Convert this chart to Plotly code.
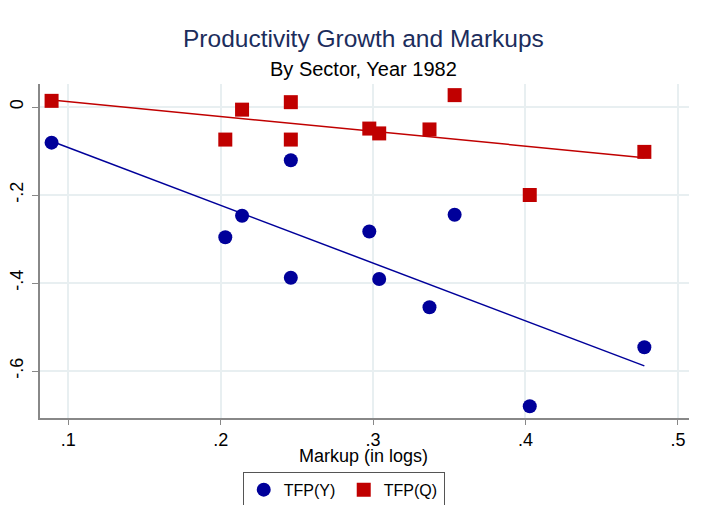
import numpy as np
import plotly.graph_objects as go

# markup (in logs) by sector, 1982
markup = [0.089, 0.203, 0.214, 0.246, 0.246, 0.2975, 0.304, 0.337, 0.3535, 0.4028, 0.478]
# productivity growth
tfp_y = [-0.081, -0.296, -0.247, -0.121, -0.388, -0.283, -0.391, -0.455, -0.245, -0.680, -0.546]
tfp_q = [0.014, -0.074, -0.006, 0.011, -0.074, -0.049, -0.060, -0.051, 0.027, -0.200, -0.102]

x_ticks = [0.1, 0.2, 0.3, 0.4, 0.5]
x_labels = [".1", ".2", ".3", ".4", ".5"]
y_ticks = [0, -0.2, -0.4, -0.6]
y_labels = ["0", "-.2", "-.4", "-.6"]

blue = "#00009a"
red = "#c00000"

x = np.array(markup)


# linear fit line across the range of markups
def fit_line(y):
    b, a = np.polyfit(x, np.array(y), 1)
    xs = np.array([x.min(), x.max()])
    return xs, a + b * xs


fig = go.Figure()

fig.add_trace(go.Scatter(x=markup, y=tfp_y, mode="markers", name="TFP(Y)",
                         marker=dict(symbol="circle", size=14, color=blue)))
fig.add_trace(go.Scatter(x=markup, y=tfp_q, mode="markers", name="TFP(Q)",
                         marker=dict(symbol="square", size=14, color=red)))

xs, ys = fit_line(tfp_y)
fig.add_trace(go.Scatter(x=xs, y=ys, mode="lines", showlegend=False,
                         line=dict(color=blue, width=1.5)))
xs, ys = fit_line(tfp_q)
fig.add_trace(go.Scatter(x=xs, y=ys, mode="lines", showlegend=False,
                         line=dict(color=red, width=1.5)))

# title, subtitle and x title placed as annotations
fig.add_annotation(text="Productivity Growth and Markups", xref="paper", yref="paper",
                   x=0.4977, y=1.1377, xanchor="center", yanchor="middle", showarrow=False,
                   font=dict(size=24.5, color="#1c2d5c"))
fig.add_annotation(text="By Sector, Year 1982", xref="paper", yref="paper",
                   x=0.4977, y=1.045, xanchor="center", yanchor="middle", showarrow=False,
                   font=dict(size=20, color="black"))
fig.add_annotation(text="Markup (in logs)", xref="paper", yref="paper",
                   x=0.4977, y=-0.1138, xanchor="center", yanchor="middle", showarrow=False,
                   font=dict(size=18, color="black"))

# page body adds a small offset, so margins are shifted up/left to compensate
fig.update_layout(
    width=702, height=505,
    margin=dict(l=32, r=21, t=76, b=95, autoexpand=False),
    paper_bgcolor="white", plot_bgcolor="white",
    font=dict(family="Liberation Sans, Arial", color="black", size=16),
    legend=dict(orientation="h", x=0.468, xanchor="center", y=-0.161, yanchor="top",
                bordercolor="#555555", borderwidth=1, font=dict(size=16),
                itemwidth=30, entrywidth=55),
    showlegend=True,
)

fig.update_xaxes(range=[0.0814, 0.5073], tickvals=x_ticks, ticktext=x_labels,
                 showgrid=True, gridcolor="#e8eff1", gridwidth=1.5,
                 showline=True, linecolor="#888888", linewidth=1.5,
                 ticks="outside", ticklen=5, tickcolor="#888888",
                 tickfont=dict(size=18), zeroline=False, automargin=False)
fig.update_yaxes(range=[-0.7068, 0.0523], tickvals=y_ticks, ticktext=y_labels,
                 showgrid=True, gridcolor="#e8eff1", gridwidth=1.5,
                 showline=True, linecolor="#888888", linewidth=1.5,
                 ticks="outside", ticklen=6, tickcolor="#888888", ticklabelstandoff=2,
                 tickfont=dict(size=18), tickangle=-90, zeroline=False, automargin=False)

fig.write_html("out.html")
